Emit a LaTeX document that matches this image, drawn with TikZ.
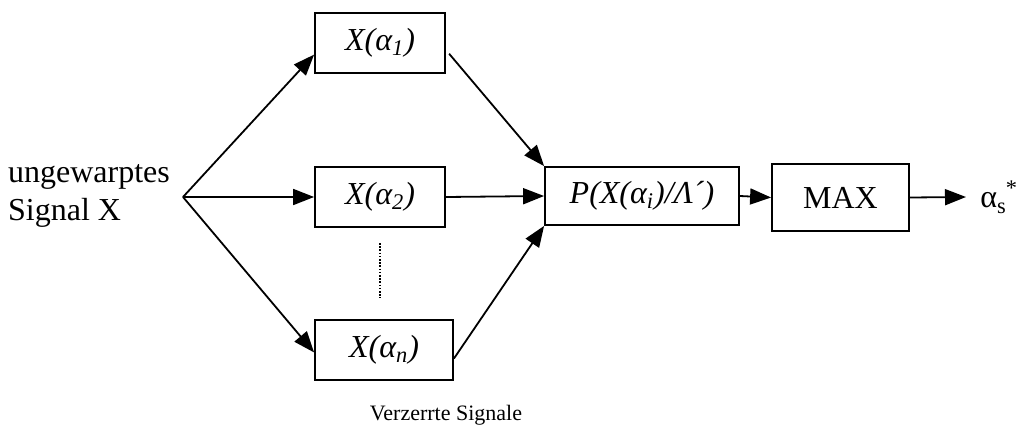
\documentclass[tikz,border=0pt]{standalone}
\usepackage{fontspec}
\setmainfont{Liberation Serif}
\usetikzlibrary{arrows.meta}

\begin{document}
\begin{tikzpicture}[x=0.5pt, y=-0.5pt,
  box/.style={draw, line width=0.9pt, inner sep=0pt, minimum width=65pt, minimum height=30pt, font=\fontsize{16}{19}\selectfont},
  link/.style={line width=0.9pt, -{Triangle[length=10.5pt, width=8pt]}}]
\useasboundingbox (0,0) rectangle (1023,439);
\node[align=left, font=\fontsize{16}{19}\selectfont] (in) at (89,196) {ungewarptes\\Signal X};
\coordinate (fan) at (183,197);
\node[box] (x1) at (380,43) {\textit{X(α\textsubscript{1})}};
\node[box] (x2) at (380,197) {\textit{X(α\textsubscript{2})}};
\node[box, minimum width=69pt] (xn) at (384,350) {\textit{X(α\textsubscript{n})}};
\node[box, minimum width=97pt, minimum height=29pt] (p) at (642,196) {\textit{P(X(α\textsubscript{i})/Λ´)}};
\node[box, minimum width=68.5pt, minimum height=33.5pt] (max) at (840.5,197.5) {MAX};
\node[anchor=west, inner sep=0pt, font=\fontsize{16}{19}\selectfont] (out) at (980,197) {α\textsubscript{s}\kern-0.5pt\textsuperscript{*}};
\node[font=\fontsize{11}{13}\selectfont] (cap) at (446,415) {Verzerrte Signale};
\coordinate (dtop) at (380,243);
\coordinate (dbot) at (380,298);
\draw[link] (fan) -- (x1.190);
\draw[link] (fan) -- (x2.west);
\draw[link] (fan) -- (xn.182);
\draw[link, shorten <=2.5pt] (x1.-6) -- (p.north west);
\draw[link] (x2.east) -- (p.west);
\draw[link] (xn.-7) -- (p.south west);
\draw[link] (p.east) -- (max.west);
\draw[link] (max.east) -- ([xshift=-7pt]out.west);
\draw[line width=1.3pt, dash pattern=on 0.8pt off 0.8pt] (dtop) -- (dbot);
\end{tikzpicture}
\end{document}
